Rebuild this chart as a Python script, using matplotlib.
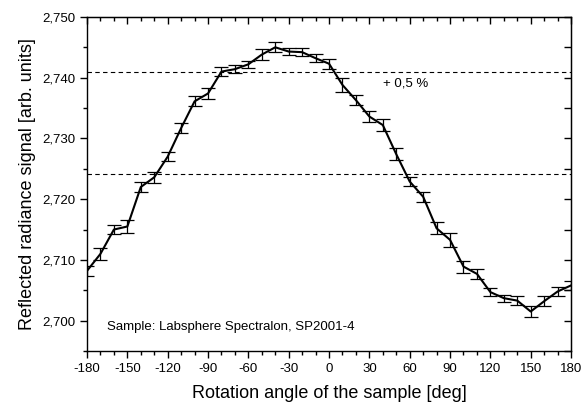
import matplotlib
matplotlib.use('Agg')
import matplotlib.pyplot as plt
from matplotlib.ticker import MultipleLocator, FuncFormatter

# Datos
angulos = list(range(-180, 181, 10))
senal = [2.7082, 2.7110, 2.7150, 2.7155, 2.7220, 2.7236, 2.7270, 2.7317,
         2.7361, 2.7374, 2.7410, 2.7414, 2.7422, 2.7438, 2.7450, 2.7443,
         2.7442, 2.7432, 2.7423, 2.7388, 2.7363, 2.7336, 2.7322, 2.7274,
         2.7229, 2.7204, 2.7152, 2.7133, 2.7089, 2.7077, 2.7047, 2.7037,
         2.7033, 2.7015, 2.7032, 2.7048, 2.7058]
errores = [0.0008, 0.0010, 0.0008, 0.0010, 0.0008, 0.0009, 0.0008, 0.0008,
           0.0008, 0.0009, 0.0008, 0.0007, 0.0006, 0.0009, 0.0008, 0.0006,
           0.0007, 0.0007, 0.0008, 0.0012, 0.0008, 0.0009, 0.0010, 0.0010,
           0.0008, 0.0008, 0.0010, 0.0012, 0.0010, 0.0008, 0.0007, 0.0006,
           0.0007, 0.0009, 0.0008, 0.0008, 0.0008]
lineas_ref = [2.7241, 2.7409]

plt.rcParams['font.family'] = ['Liberation Sans', 'DejaVu Sans']
plt.rcParams['axes.unicode_minus'] = False

fig = plt.figure(figsize=(5.86, 4.03), dpi=100)
ax = fig.add_axes([0.1485, 0.129, 0.826, 0.829])

for y in lineas_ref:
    ax.axhline(y, color='black', linestyle=(0, (4, 3)), linewidth=0.8)

ax.errorbar(angulos, senal, yerr=errores, color='black', linewidth=1.5,
            elinewidth=0.9, capsize=5, capthick=0.9)

ax.text(40, 2.7391, '+ 0,5 %', fontsize=9.5, va='center')
ax.text(-165, 2.6989, 'Sample: Labsphere Spectralon, SP2001-4', fontsize=9.5, va='center')

ax.set_xlim(-180, 180)
ax.set_ylim(2.695, 2.750)
ax.xaxis.set_major_locator(MultipleLocator(30))
ax.xaxis.set_minor_locator(MultipleLocator(10))
ax.yaxis.set_major_locator(MultipleLocator(0.01))
ax.yaxis.set_minor_locator(MultipleLocator(0.005))
ax.yaxis.set_major_formatter(FuncFormatter(lambda v, p: f'{v:.3f}'.replace('.', ',')))
ax.tick_params(which='both', direction='out', labelsize=9.5, width=1)
ax.tick_params(which='major', length=5)
ax.tick_params(which='minor', length=3)

# ejes espejo arriba y a la derecha con ticks hacia dentro
arriba = ax.secondary_xaxis('top')
arriba.xaxis.set_major_locator(MultipleLocator(30))
arriba.xaxis.set_minor_locator(MultipleLocator(10))
arriba.tick_params(which='both', direction='in', labeltop=False, width=1)
arriba.tick_params(which='major', length=5)
arriba.tick_params(which='minor', length=3)
derecha = ax.secondary_yaxis('right')
derecha.yaxis.set_major_locator(MultipleLocator(0.01))
derecha.yaxis.set_minor_locator(MultipleLocator(0.005))
derecha.tick_params(which='both', direction='in', labelright=False, width=1)
derecha.tick_params(which='major', length=5)
derecha.tick_params(which='minor', length=5)

for s in ax.spines.values():
    s.set_linewidth(1)

ax.set_xlabel('Rotation angle of the sample [deg]', fontsize=13, labelpad=7)
ax.set_ylabel('Reflected radiance signal [arb. units]', fontsize=13, labelpad=4)

plt.savefig('out.png', dpi=100)
